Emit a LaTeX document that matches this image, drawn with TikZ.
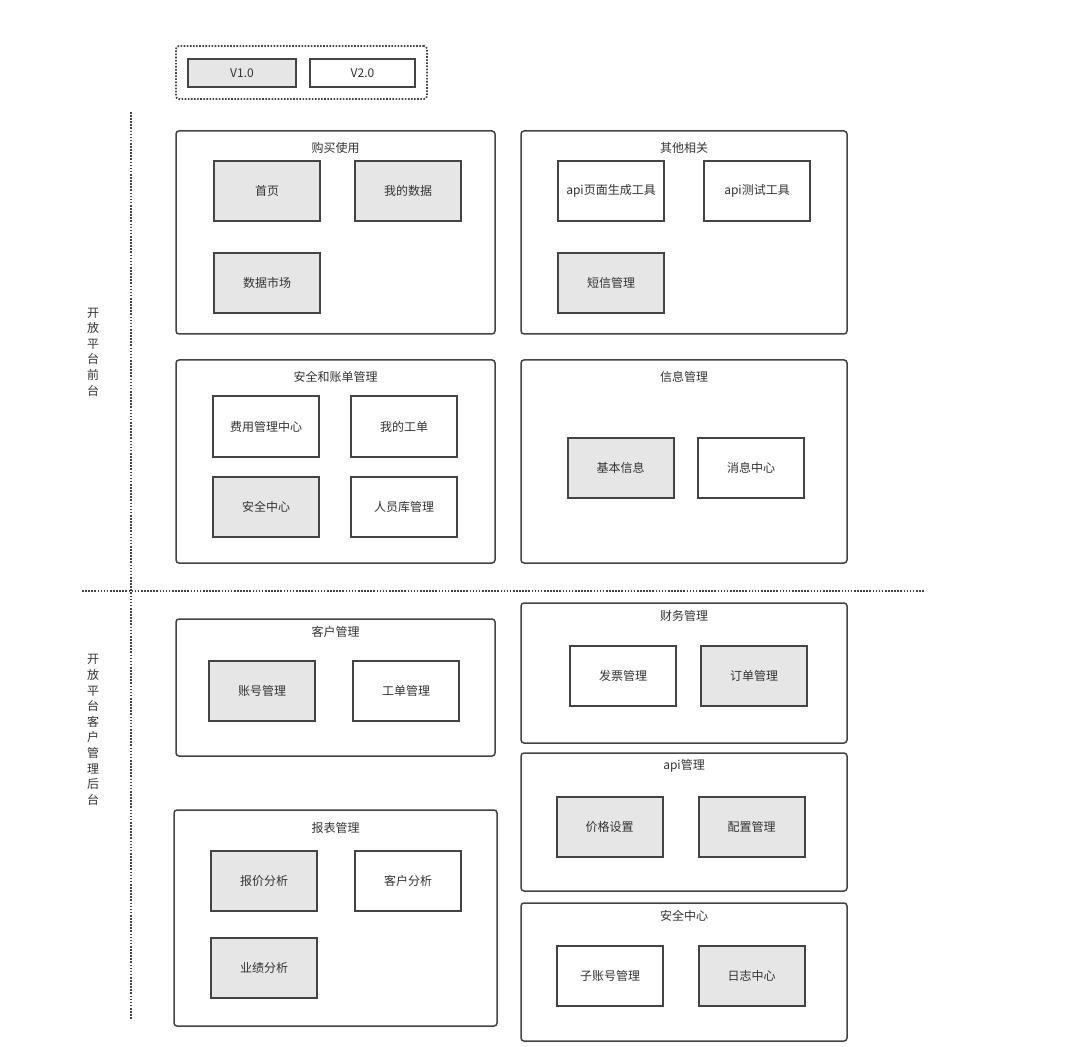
\documentclass[tikz,border=0pt]{standalone}
\usepackage{fontspec}
\setmainfont{Noto Sans CJK SC}
\usepackage{tikz}
\definecolor{edge}{RGB}{68,68,68}
\definecolor{ink}{RGB}{51,51,51}
\definecolor{shade}{RGB}{230,230,230}

\begin{document}
\begin{tikzpicture}[x=0.5pt, y=-0.5pt, font=\fontsize{6}{7.8}\selectfont, text=ink,
  group/.style={draw=edge, line width=0.75pt, rounded corners=1.5pt, inner sep=0pt},
  item/.style={draw=edge, line width=1pt, fill=white, minimum width=53pt, minimum height=30pt, inner sep=0pt},
  grey/.style={item, fill=shade},
  title/.style={inner sep=0pt},
  dots/.style={draw=edge, line width=0.85pt, dash pattern=on 0.8pt off 0.75pt}]
  \useasboundingbox (0,0) rectangle (1080,1047);

  % version legend
  \node[dots, rounded corners=1.5pt, minimum width=125.5pt, minimum height=26.5pt, inner sep=0pt] (ver) at (301.5,72.5) {};
  \node[grey, minimum width=54pt, minimum height=14pt] (v1) at (242,73) {V1.0};
  \node[item, minimum width=52.5pt, minimum height=14pt] (v2) at (362.5,73) {V2.0};

  % split lines
  \coordinate (vtop) at (131,112);
  \coordinate (vbot) at (131,1020);
  \coordinate (hleft) at (82,591);
  \coordinate (hright) at (925,591);
  \draw[dots] (vtop) -- (vbot);
  \draw[dots] (hleft) -- (hright);

  \node[title, align=center] (front) at (93,352) {开\\放\\平\\台\\前\\台};
  \node[title, align=center] (back) at (93,730) {开\\放\\平\\台\\客\\户\\管\\理\\后\\台};

  % front: buying
  \node[group, minimum width=159.5pt, minimum height=101.5pt] (buy) at (335.5,232.5) {};
  \node[title] (buyt) at (335.5,148) {购买使用};
  \node[grey] (home) at (267,191) {首页};
  \node[grey] (mydata) at (408,191) {我的数据};
  \node[grey] (market) at (267,283) {数据市场};

  % front: others
  \node[group, minimum width=163pt, minimum height=101.5pt] (other) at (684,232.5) {};
  \node[title] (othert) at (684,148) {其他相关};
  \node[item] (apigen) at (611,191) {api页面生成工具};
  \node[item] (apitest) at (757,191) {api测试工具};
  \node[grey] (sms) at (611,283) {短信管理};

  % front: security and bills
  \node[group, minimum width=159.5pt, minimum height=101.5pt] (secbill) at (335.5,461.5) {};
  \node[title] (secbillt) at (335.5,377) {安全和账单管理};
  \node[item] (fee) at (266,426.5) {费用管理中心};
  \node[item] (myticket) at (404,426.5) {我的工单};
  \node[grey] (seccenter) at (266,507) {安全中心};
  \node[item] (staff) at (404,507) {人员库管理};

  % front: info
  \node[group, minimum width=163pt, minimum height=101.5pt] (info) at (684,461.5) {};
  \node[title] (infot) at (684,377) {信息管理};
  \node[grey] (basic) at (620.5,468) {基本信息};
  \node[item] (msg) at (751,468) {消息中心};

  % back: customers
  \node[group, minimum width=159.5pt, minimum height=68.5pt] (cust) at (335.5,687.5) {};
  \node[title] (custt) at (335.5,632) {客户管理};
  \node[grey] (account) at (262,690.5) {账号管理};
  \node[item] (ticket) at (406,690.5) {工单管理};

  % back: finance
  \node[group, minimum width=163pt, minimum height=70pt] (fin) at (684,673) {};
  \node[title] (fint) at (684,616) {财务管理};
  \node[item] (invoice) at (623,675.5) {发票管理};
  \node[grey] (orders) at (754,675.5) {订单管理};

  % back: api
  \node[group, minimum width=163pt, minimum height=69pt] (api) at (684,822) {};
  \node[title] (apit) at (684,766) {api管理};
  \node[grey] (price) at (609.5,826.5) {价格设置};
  \node[grey] (config) at (751.5,826.5) {配置管理};

  % back: security
  \node[group, minimum width=163pt, minimum height=69pt] (sec) at (684,972) {};
  \node[title] (sect) at (684,916) {安全中心};
  \node[item] (subacc) at (610,975.5) {子账号管理};
  \node[grey] (logs) at (751.5,975.5) {日志中心};

  % back: reports
  \node[group, minimum width=161.5pt, minimum height=108pt] (report) at (335.5,918) {};
  \node[title] (reportt) at (335.5,828) {报表管理};
  \node[grey] (quote) at (264,880.5) {报价分析};
  \node[item] (custana) at (408,880.5) {客户分析};
  \node[grey] (perf) at (264,967.5) {业绩分析};
\end{tikzpicture}
\end{document}
